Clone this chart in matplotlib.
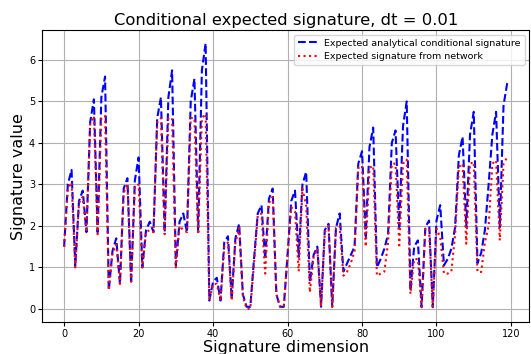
import numpy as np
import matplotlib
matplotlib.use("Agg")
from matplotlib import pyplot as plt

# expected signature values (groups of 3 per block)
analytical = [
    1.5, 3.0, 3.35, 1.05, 2.6, 2.85, 1.85, 4.5, 5.05, 1.85, 5.1, 5.6,
    0.45, 1.4, 1.7, 0.6, 2.9, 3.15, 0.62, 3.1, 3.65, 1.0, 1.9, 2.1,
    1.85, 4.6, 5.1, 1.85, 5.1, 5.75, 1.05, 2.1, 2.3, 1.85, 5.0, 5.55,
    1.85, 5.75, 6.4, 0.2, 0.65, 0.75, 0.2, 1.6, 1.75, 0.25, 1.7, 2.05,
    0.35, 0.05, 0.05, 1.2, 2.3, 2.5, 1.2, 2.65, 2.9, 0.35, 0.05, 0.05,
    1.3, 2.6, 2.85, 1.25, 3.0, 3.3, 0.65, 1.3, 1.5, 0.05, 1.9, 2.05,
    0.05, 1.95, 2.3, 0.9, 1.1, 1.3, 1.5, 3.5, 3.8, 1.75, 3.9, 4.37,
    1.0, 1.2, 1.45, 1.8, 4.0, 4.3, 1.97, 4.4, 5.0, 0.44, 1.5, 1.65,
    0.04, 1.97, 2.13, 0.04, 2.13, 2.5, 1.05, 1.2, 1.45, 1.97, 3.7, 4.15,
    1.97, 4.2, 4.75, 1.1, 1.35, 1.9, 3.0, 4.2, 4.75, 1.97, 4.9, 5.45,
]
network = [
    1.5, 2.9, 3.05, 1.0, 2.55, 2.7, 1.85, 4.45, 4.65, 1.8, 4.6, 4.65,
    0.45, 1.35, 1.55, 0.6, 2.8, 3.0, 0.65, 2.95, 3.0, 1.0, 1.85, 1.9,
    1.85, 4.5, 4.6, 1.8, 4.6, 4.6, 1.0, 2.0, 1.9, 1.85, 4.6, 4.6,
    1.8, 4.6, 4.7, 0.2, 0.6, 0.6, 0.2, 1.5, 1.6, 0.2, 1.6, 1.95,
    0.3, 0.0, 0.0, 1.1, 2.25, 2.3, 0.85, 2.55, 2.7, 0.35, 0.05, 0.05,
    1.3, 2.45, 2.35, 0.9, 2.9, 2.5, 0.4, 1.25, 1.45, 0.05, 1.85, 2.0,
    0.05, 1.95, 2.0, 0.8, 0.9, 1.1, 1.4, 3.4, 3.45, 1.5, 3.4, 3.45,
    0.8, 0.85, 0.9, 1.6, 3.5, 3.5, 1.53, 3.5, 3.6, 0.36, 1.2, 1.2,
    0.05, 1.93, 1.93, 0.05, 1.93, 1.73, 0.85, 0.85, 0.9, 1.8, 3.42, 3.5,
    1.57, 3.5, 3.54, 0.89, 0.89, 1.6, 2.0, 3.5, 3.58, 1.65, 3.5, 3.66,
]
dims = np.arange(len(analytical))

fig = plt.figure(figsize=(5.31, 3.54), dpi=100)
ax = fig.add_axes([0.079, 0.09, 0.918, 0.825])
ax.plot(dims, analytical, 'b--', label='Expected analytical conditional signature')
ax.plot(dims, network, 'r:', label='Expected signature from network')
ax.grid(True)
ax.set_title('Conditional expected signature, dt = 0.01', fontsize=11.8, pad=4)
ax.set_xlabel('Signature dimension', fontsize=11.5, labelpad=1)
ax.set_ylabel('Signature value', fontsize=11.5, labelpad=2)
ax.tick_params(labelsize=7, length=3, pad=2)
ax.legend(loc='upper right', fontsize=6.8)
plt.savefig('out.png')
